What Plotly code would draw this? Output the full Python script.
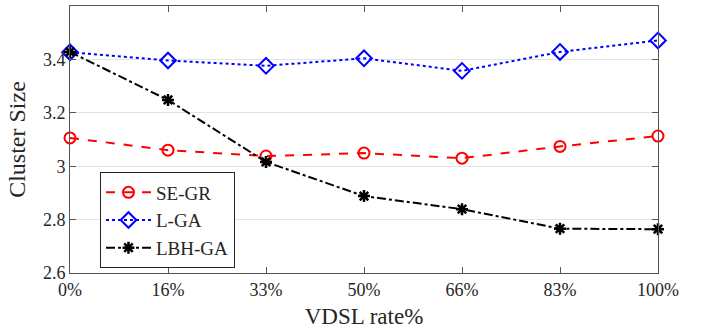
import plotly.graph_objects as go

categories = ["0%", "16%", "33%", "50%", "66%", "83%", "100%"]
se_gr = [3.106, 3.060, 3.038, 3.049, 3.030, 3.074, 3.113]
l_ga = [3.427, 3.396, 3.376, 3.404, 3.357, 3.428, 3.471]
lbh_ga = [3.428, 3.248, 3.016, 2.888, 2.839, 2.766, 2.764]
y_ticks = [2.6, 2.8, 3.0, 3.2, 3.4, 3.6]
y_tick_text = ["2.6", "2.8", "3", "3.2", "3.4", "3.6"]

xs = list(range(len(categories)))
font_family = "Liberation Serif"

fig = go.Figure()
fig.add_trace(go.Scatter(
    x=xs, y=se_gr, name="SE-GR", mode="lines+markers",
    line=dict(color="#ff0000", width=2, dash="dash"),
    marker=dict(symbol="circle-open", size=11, color="#ff0000", line=dict(width=2)),
    cliponaxis=False))
fig.add_trace(go.Scatter(
    x=xs, y=l_ga, name="L-GA", mode="lines+markers",
    line=dict(color="#0000ff", width=2, dash="dot"),
    marker=dict(symbol="diamond-open", size=12, color="#0000ff", line=dict(width=2)),
    cliponaxis=False))
fig.add_trace(go.Scatter(
    x=xs, y=lbh_ga, name="LBH-GA", mode="lines+markers",
    line=dict(color="#000000", width=2, dash="dashdot"),
    marker=dict(symbol="asterisk-open", size=10, color="#000000", line=dict(width=2.5, color="#000000")),
    cliponaxis=False))

fig.update_layout(
    width=706, height=334,
    margin=dict(l=70, r=48, t=6, b=61),
    paper_bgcolor="white", plot_bgcolor="white",
    font=dict(family=font_family, color="#262626", size=18),
    showlegend=True,
    legend=dict(
        x=0.051, y=0.017, xanchor="left", yanchor="bottom",
        bgcolor="white", bordercolor="#262626", borderwidth=1,
        font=dict(size=19, color="#262626", family=font_family),
        itemwidth=45, tracegroupgap=0,
    ),
)
fig.update_xaxes(
    range=[0, 6], tickmode="array", tickvals=xs, ticktext=categories,
    showgrid=False, zeroline=False,
    showline=True, linecolor="#555555", linewidth=1, mirror="allticks",
    ticks="inside", ticklen=6, tickcolor="#555555",
    tickfont=dict(size=18, family=font_family, color="#262626"),
    title=dict(text="VDSL rate%", font=dict(size=23, family=font_family, color="#262626"), standoff=9),
)
fig.update_yaxes(
    range=[2.6, 3.6], tickmode="array", tickvals=y_ticks, ticktext=y_tick_text,
    showgrid=True, gridcolor="#e3e3e3", gridwidth=1, zeroline=False,
    showline=True, linecolor="#555555", linewidth=1, mirror="allticks",
    ticks="inside", ticklen=6, tickcolor="#555555",
    tickfont=dict(size=18, family=font_family, color="#262626"),
    title=dict(text="Cluster Size", font=dict(size=24, family=font_family, color="#262626"), standoff=10),
)

fig.write_html("out.html")
